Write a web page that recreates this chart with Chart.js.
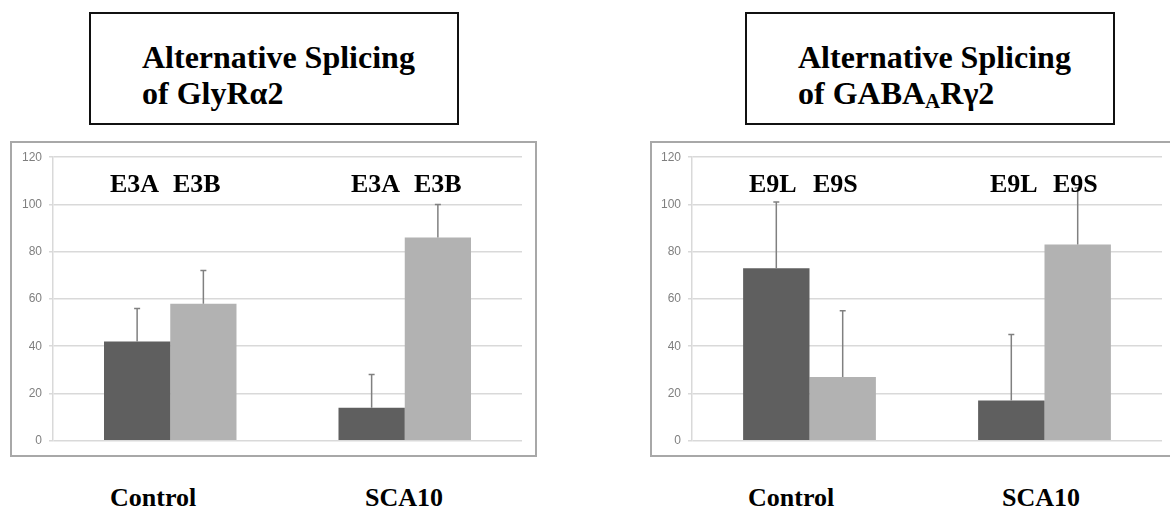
<!DOCTYPE html>
<html>
<head>
<meta charset="utf-8">
<script src="https://cdn.jsdelivr.net/npm/chart.js@4.4.0/dist/chart.umd.min.js"></script>
<style>
  html, body { margin: 0; padding: 0; background: #fff; overflow: hidden; }
  body { width: 1170px; height: 511px; position: relative; font-family: "Liberation Serif", "DejaVu Serif", serif; }
  .tbox { position: absolute; top: 12px; width: 370px; height: 113px; box-sizing: border-box; border: 2px solid #111; }
  .ttl { position: absolute; font-weight: bold; font-size: 32px; line-height: 36px; color: #000; white-space: nowrap; }
  .cbox { position: absolute; top: 141px; width: 527px; height: 316px; box-sizing: border-box; border: 2px solid #a8a8a8; }
  .cbox canvas { display: block; }
  .lbl { position: absolute; font-weight: bold; font-size: 26px; line-height: 26px; color: #000; white-space: nowrap; }
  sub { font-size: 21px; line-height: 0; vertical-align: -4px; }
</style>
</head>
<body>

<div class="tbox" style="left:89px"></div>
<div class="ttl" style="left:142px; top:39px">Alternative Splicing<br>of GlyRα2</div>
<div class="tbox" style="left:745px"></div>
<div class="ttl" style="left:798px; top:39px">Alternative Splicing<br>of GABA<sub>A</sub>Rγ2</div>

<div class="cbox" style="left:10px"><canvas id="chartLeft" width="523" height="312"></canvas></div>
<div class="cbox" style="left:650px"><canvas id="chartRight" width="523" height="312"></canvas></div>

<script>
// data (percent)
var categories = ['Control', 'SCA10'];
var yTicks = [0, 20, 40, 60, 80, 100, 120];

var glySeries = ['E3A', 'E3B'];
var glyE3A = [42, 14];
var glyE3B = [58, 86];
var glyE3AErr = [14, 14];
var glyE3BErr = [14, 14];

var gabaSeries = ['E9L', 'E9S'];
var gabaE9L = [73, 17];
var gabaE9S = [27, 83];
var gabaE9LErr = [28, 28];
var gabaE9SErr = [28, 24];

var darkBar = '#5f5f5f';
var lightBar = '#b2b2b2';
var gridColor = '#d9d9d9';

// plus-only error bars with a small cap
var errorBars = {
  id: 'errorBars',
  afterDatasetsDraw: function(chart) {
    var ctx = chart.ctx;
    var y = chart.scales.y;
    ctx.save();
    ctx.strokeStyle = '#808080';
    ctx.lineWidth = 1.5;
    chart.data.datasets.forEach(function(ds, i) {
      var meta = chart.getDatasetMeta(i);
      meta.data.forEach(function(bar, j) {
        var top = y.getPixelForValue(ds.data[j] + ds.errors[j]);
        ctx.beginPath();
        ctx.moveTo(bar.x, bar.y);
        ctx.lineTo(bar.x, top);
        ctx.moveTo(bar.x - 3, top);
        ctx.lineTo(bar.x + 3, top);
        ctx.stroke();
      });
    });
    ctx.restore();
  }
};

function makeChart(id, names, a, b, aErr, bErr, axisWidth) {
  var ctx = document.getElementById(id).getContext('2d');
  return new Chart(ctx, {
    type: 'bar',
    data: {
      labels: categories,
      datasets: [
        { label: names[0], data: a, errors: aErr, backgroundColor: darkBar, borderWidth: 0,
          barPercentage: 1, categoryPercentage: 0.565 },
        { label: names[1], data: b, errors: bErr, backgroundColor: lightBar, borderWidth: 0,
          barPercentage: 1, categoryPercentage: 0.565 }
      ]
    },
    options: {
      responsive: false,
      animation: false,
      layout: { padding: { top: 12.5, right: 13, bottom: 14.3, left: 0 } },
      plugins: { legend: { display: false }, tooltip: { enabled: false } },
      scales: {
        x: { display: false },
        y: {
          min: 0,
          max: 120,
          afterBuildTicks: function(scale) {
            scale.ticks = yTicks.map(function(v) { return { value: v }; });
          },
          afterFit: function(scale) { scale.width = axisWidth; },
          grid: { color: gridColor, lineWidth: 1.5, tickLength: 4 },
          border: { display: true, color: gridColor, width: 1.5 },
          ticks: {
            padding: 7,
            color: '#7f7f7f',
            font: { family: 'Liberation Sans', size: 12 }
          }
        }
      }
    },
    plugins: [errorBars]
  });
}

makeChart('chartLeft', glySeries, glyE3A, glyE3B, glyE3AErr, glyE3BErr, 41);
makeChart('chartRight', gabaSeries, gabaE9L, gabaE9S, gabaE9LErr, gabaE9SErr, 40);

// text labels above the bars and below the boxes
function addLabel(text, left, top) {
  var d = document.createElement('div');
  d.className = 'lbl';
  d.textContent = text;
  d.style.left = left + 'px';
  d.style.top = top + 'px';
  document.body.appendChild(d);
}

var seriesLabelLeft = [[110, 173, 351, 414], [749, 813, 990, 1053]];
var categoryLabelLeft = [[110, 365], [748, 1002]];

[glySeries, gabaSeries].forEach(function(names, k) {
  var xs = seriesLabelLeft[k];
  addLabel(names[0], xs[0], 170.5);
  addLabel(names[1], xs[1], 170.5);
  addLabel(names[0], xs[2], 170.5);
  addLabel(names[1], xs[3], 170.5);
  categories.forEach(function(c, j) {
    addLabel(c, categoryLabelLeft[k][j], 485);
  });
});
</script>
</body>
</html>
